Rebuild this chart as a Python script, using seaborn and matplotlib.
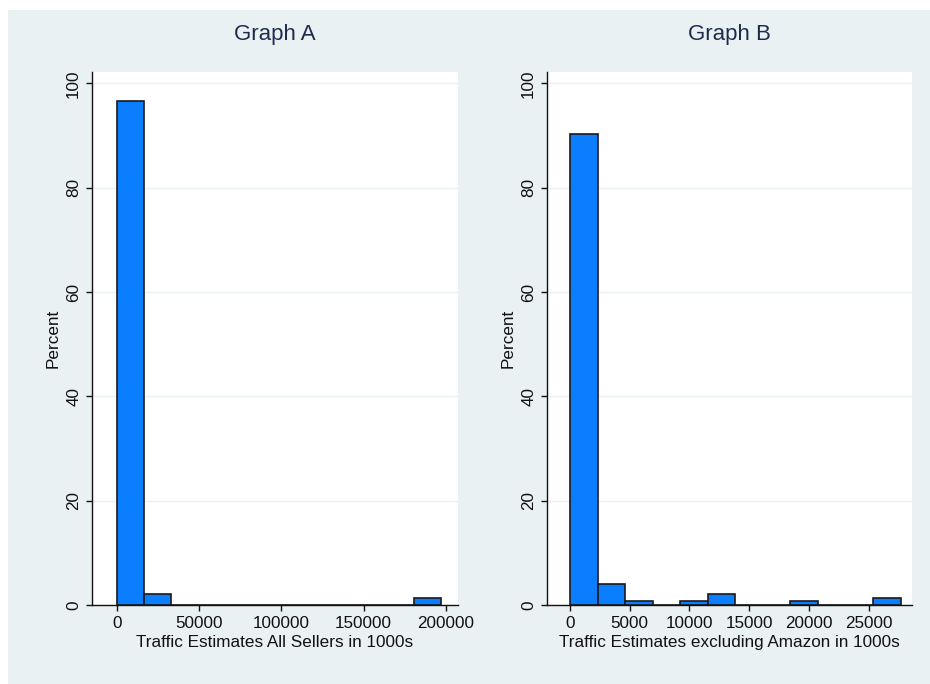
import numpy as np
import pandas as pd
import matplotlib
matplotlib.use("Agg")
import matplotlib.pyplot as plt
import seaborn as sns

# ---- data ----
bin_width_a = 16450
n_bins = 12
pct_a = [96.6, 2.05, 0, 0, 0, 0, 0, 0, 0, 0, 0, 1.37]

bin_width_b = 2307
pct_b = [90.4, 4.11, 0.68, 0, 0.68, 2.05, 0, 0, 0.68, 0, 0, 1.37]

xticks_a = [0, 50000, 100000, 150000, 200000]
xticks_b = [0, 5000, 10000, 15000, 20000, 25000]
yticks = [0, 20, 40, 60, 80, 100]

titles = ["Graph A", "Graph B"]
xlabels = ["Traffic Estimates All Sellers in 1000s",
           "Traffic Estimates excluding Amazon in 1000s"]

BG = "#EAF1F3"
BAR = "#0A7EFF"
TITLE_C = "#1E2B4F"

sns.set_theme(style="white")
plt.rcParams["font.family"] = ["Liberation Sans", "DejaVu Sans"]

fig = plt.figure(figsize=(9.3, 6.84), dpi=100)
fig.patch.set_facecolor("white")
bg = plt.Rectangle((8 / 930, 0), 1 - 8 / 930, 1 - 10 / 684, transform=fig.transFigure,
                   facecolor=BG, edgecolor="none", zorder=-10)
fig.patches.append(bg)

W, H = 930, 684
rects = [(92, 72, 458, 605), (547, 72, 912, 605)]
xlims = [(-15200, 207500), (-1930, 28640)]

panels = [(bin_width_a, pct_a, xticks_a), (bin_width_b, pct_b, xticks_b)]
FS = 12.3

for i, ((bw, pct, xt), (x0, y0, x1, y1)) in enumerate(zip(panels, rects)):
    ax = fig.add_axes([x0 / W, 1 - y1 / H, (x1 - x0) / W, (y1 - y0) / H])
    centers = (np.arange(n_bins) + 0.5) * bw
    df = pd.DataFrame({"x": centers, "w": pct})
    sns.histplot(data=df, x="x", weights="w", binwidth=bw,
                 binrange=(0, n_bins * bw), stat="count",
                 color=BAR, alpha=1, edgecolor="#1a1a1a", linewidth=1.2, ax=ax)
    ax.set_facecolor("white")
    ax.set_xlim(*xlims[i])
    ax.set_ylim(0, 102.2)
    ax.set_yticks(yticks)
    ax.set_xticks(xt)
    ax.set_xticklabels([str(v) for v in xt], fontsize=FS, color="#111111")
    ax.set_yticklabels([str(v) for v in yticks], fontsize=FS, rotation=90,
                       va="center", color="#111111")
    ax.grid(axis="y", color=BG, linewidth=1.0, zorder=0)
    ax.set_axisbelow(True)
    for s in ["top", "right"]:
        ax.spines[s].set_visible(False)
    for s in ["left", "bottom"]:
        ax.spines[s].set_color("#111111")
        ax.spines[s].set_linewidth(1.0)
    ax.tick_params(axis="both", direction="out", length=4.6, width=1,
                   color="#111111", pad=3.2, bottom=True, left=True)
    ax.set_xlabel(xlabels[i], fontsize=FS, color="#111111", labelpad=3)
    ax.set_ylabel("Percent", fontsize=FS, color="#111111", labelpad=4)
    ax.set_title(titles[i], fontsize=16, color=TITLE_C, pad=23)

fig.savefig("out.png", dpi=100, facecolor="white")
